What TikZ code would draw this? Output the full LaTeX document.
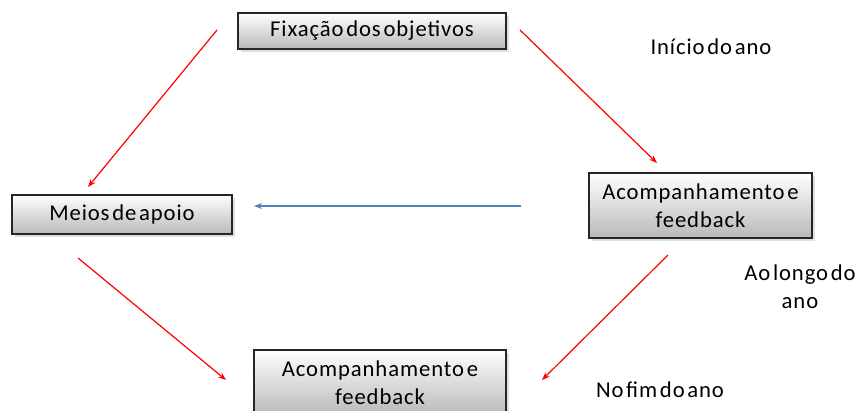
\documentclass[tikz,border=0pt]{standalone}
\usepackage{fontspec}
\setmainfont{Carlito}[LetterSpace=4,WordSpace=0.45]
\usetikzlibrary{arrows.meta,shadows,positioning}
\definecolor{linkblue}{RGB}{79,129,189}
\definecolor{boxgray}{RGB}{185,185,185}

\begin{document}
\begin{tikzpicture}[x=0.75pt,y=-0.75pt]
  \tikzstyle{stage} = [draw=black!85,line width=1pt,top color=white,bottom color=boxgray,drop shadow={opacity=0.25,shadow xshift=2pt,shadow yshift=-2pt},align=center,inner sep=0pt,text=black,font=\fontsize{17}{21}\selectfont]
  \tikzstyle{timing} = [align=center,inner sep=0pt,text=black,font=\fontsize{17}{21}\selectfont]
  \tikzstyle{redarrow} = [draw=red,line width=0.9pt,-{Stealth[length=6pt,width=4.5pt]}]

  \useasboundingbox (0,0) rectangle (865,411);

  \node[stage,minimum width=201pt,minimum height=27pt] (fix) at (372,31) {Fixação dos objetivos};
  \node[stage,minimum width=165pt,minimum height=29.25pt] (meios) at (122,214.5) {Meios de apoio};
  \node[stage,minimum width=167.25pt,minimum height=48.75pt] (acomp_1) at (700.5,205.5) {Acompanhamento e\\feedback};
  \node[stage,minimum width=189pt,minimum height=48.75pt] (acomp_2) at (380,382.5) {Acompanhamento e\\feedback};

  \node[timing] (inicio) at (711,47) {Início do ano};
  \node[timing] (longo) at (800,286.5) {Ao longo do\\ano};
  \node[timing] (fim) at (660,390) {No fim do ano};

  \coordinate (fix_left) at (217,30);
  \coordinate (fix_right) at (520,30);
  \coordinate (meios_top) at (88,187);
  \coordinate (meios_bottom) at (78,258);
  \coordinate (meios_right) at (254,206);
  \coordinate (acomp_1_top) at (657,163);
  \coordinate (acomp_1_left) at (521,206);
  \coordinate (acomp_1_bottom) at (668,255);
  \coordinate (acomp_2_left) at (226,380);
  \coordinate (acomp_2_right) at (542,380);

  \draw [redarrow] (fix_left) -- (meios_top);
  \draw [redarrow] (fix_right) -- (acomp_1_top);
  \draw [redarrow] (meios_bottom) -- (acomp_2_left);
  \draw [redarrow] (acomp_1_bottom) -- (acomp_2_right);
  \draw [draw=linkblue,line width=0.9pt,-{Stealth[length=6pt,width=4.5pt]}] (acomp_1_left) -- (meios_right);
\end{tikzpicture}
\end{document}
